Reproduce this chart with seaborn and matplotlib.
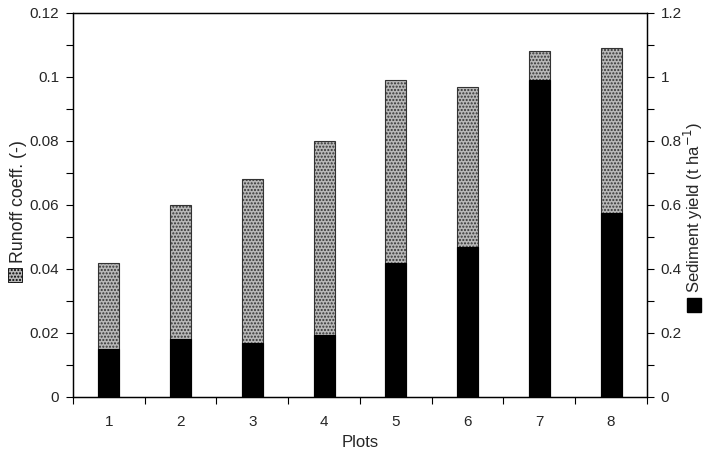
import numpy as np
import pandas as pd
import seaborn as sns
import matplotlib.pyplot as plt
from matplotlib.patches import Rectangle
from matplotlib.ticker import MultipleLocator, FuncFormatter

sns.set_style('ticks')
plt.rcParams['font.family'] = ['Liberation Sans', 'DejaVu Sans']

# dados
plots = ['1', '2', '3', '4', '5', '6', '7', '8']
runoff = [0.042, 0.060, 0.068, 0.080, 0.099, 0.097, 0.108, 0.109]
sediment = [0.15, 0.18, 0.17, 0.195, 0.42, 0.47, 0.99, 0.575]

df = pd.DataFrame({'Plots': plots, 'Runoff': runoff, 'Sediment': sediment})

fig = plt.figure(figsize=(7.04, 4.57), dpi=100)
ax = fig.add_axes([0.1037, 0.1313, 0.8153, 0.8403])
ax2 = ax.twinx()

sns.barplot(data=df, x='Plots', y='Runoff', color='#b8b8b8', edgecolor='black',
            linewidth=0.8, width=0.29, saturation=1, ax=ax)
sns.barplot(data=df, x='Plots', y='Sediment', color='black', edgecolor='black',
            linewidth=0.8, width=0.29, saturation=1, ax=ax2)
for p in ax.patches:
    p.set_hatch('.....')
    p.set_edgecolor('#333333')

fmt = FuncFormatter(lambda v, pos: ('%.2f' % v).rstrip('0').rstrip('.') if v else '0')
ax.set_xlim(-0.5, 7.5)
ax.set_ylim(0, 0.12)
ax2.set_ylim(0, 1.2)
ax.yaxis.set_major_locator(MultipleLocator(0.02))
ax.yaxis.set_minor_locator(MultipleLocator(0.01))
ax2.yaxis.set_major_locator(MultipleLocator(0.2))
ax2.yaxis.set_minor_locator(MultipleLocator(0.1))
ax.yaxis.set_major_formatter(fmt)
ax2.yaxis.set_major_formatter(fmt)

# ticks do eixo x nos limites das categorias
ax.set_xticks(np.arange(8))
ax.set_xticks(np.arange(-0.5, 8.0, 1.0), minor=True)
ax.tick_params(axis='x', which='major', length=0, pad=13)
ax.tick_params(axis='x', which='minor', length=5, width=0.8, color='black')
for a in (ax, ax2):
    a.tick_params(axis='y', which='major', length=5, width=0.8, color='black',
                  labelsize=11, pad=5)
    a.tick_params(axis='y', which='minor', length=5, width=0.8, color='black')
    for s in a.spines.values():
        s.set_visible(True)
        s.set_color('black')
        s.set_linewidth(0.9)
ax.tick_params(axis='x', labelsize=11)

ax.set_xlabel('Plots', fontsize=12, labelpad=4)
ax.set_ylabel('')
ax2.set_ylabel('')

# rótulos dos eixos com marcador de legenda
fig.text(0.026, 0.4245, 'Runoff coeff. (-)', rotation=90, fontsize=12.8,
         ha='center', va='bottom')
fig.patches.append(Rectangle((0.0114, 0.383), 0.02, 0.031, transform=fig.transFigure,
                             facecolor='#b8b8b8', edgecolor='black', linewidth=0.6,
                             hatch='.....', figure=fig))
fig.text(0.985, 0.359, 'Sediment yield (t ha$^{-1}$)', rotation=90, fontsize=12,
         ha='center', va='bottom')
fig.patches.append(Rectangle((0.976, 0.317), 0.02, 0.031, transform=fig.transFigure,
                             facecolor='black', edgecolor='black', figure=fig))

fig.savefig('out.png', dpi=100)
